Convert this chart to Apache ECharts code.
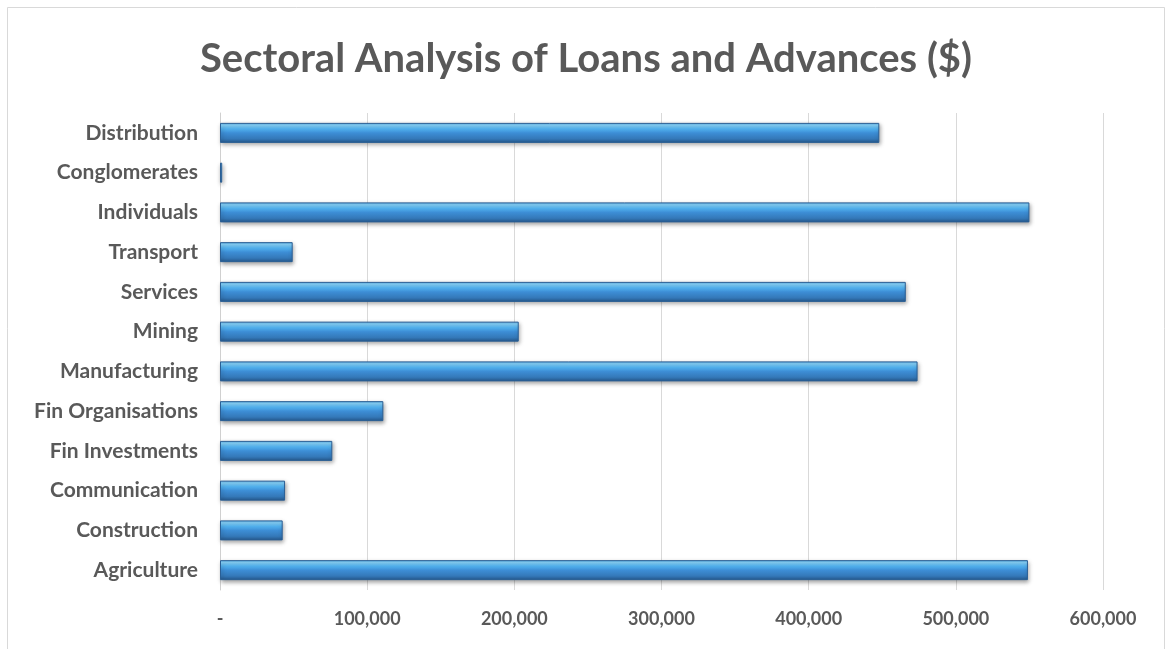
<!DOCTYPE html>
<html>
<head>
<meta charset="utf-8">
<script src="https://cdn.jsdelivr.net/npm/echarts@6/dist/echarts.min.js"></script>
<style>html,body{margin:0;padding:0;background:#fff;}#c{width:1172px;height:649px;}</style>
</head>
<body>
<div id="c"></div>
<script>
const title = 'Sectoral Analysis of Loans and Advances ($)';
const categories = ['Agriculture', 'Construction', 'Communication', 'Fin Investments', 'Fin Organisations', 'Manufacturing', 'Mining', 'Services', 'Transport', 'Individuals', 'Conglomerates', 'Distribution'];
const values = [549000, 42600, 44200, 76300, 111000, 474000, 203000, 466000, 49400, 550000, 1500, 448000];
const xTicks = [0, 100000, 200000, 300000, 400000, 500000, 600000];

const chart = echarts.init(document.getElementById('c'));
const barGrad = new echarts.graphic.LinearGradient(0, 0, 0, 1, [
  {offset: 0, color: '#5aaee8'},
  {offset: 0.12, color: '#86d2fa'},
  {offset: 0.3, color: '#52b2ef'},
  {offset: 0.5, color: '#3d8ed6'},
  {offset: 0.8, color: '#3478b8'},
  {offset: 1, color: '#25588c'}
]);
chart.setOption({
  animation: false,
  backgroundColor: '#ffffff',
  title: {
    text: title, left: 'center', top: 34,
    textStyle: {fontFamily: 'Lato', fontWeight: 'bold', fontSize: 40, color: '#595959'}
  },
  graphic: [{
    type: 'rect', shape: {x: 7.5, y: 7.5, width: 1157, height: 650},
    style: {fill: 'none', stroke: '#d9d9d9', lineWidth: 1}, silent: true
  }],
  grid: {left: 220, right: 69, top: 113, bottom: 59, containLabel: false},
  xAxis: {
    type: 'value', min: xTicks[0], max: xTicks[xTicks.length - 1], interval: xTicks[1] - xTicks[0],
    axisLine: {show: false}, axisTick: {show: false},
    splitLine: {lineStyle: {color: '#d9d9d9', width: 1}},
    axisLabel: {
      margin: 20, fontFamily: 'Lato', fontWeight: 'bold', fontSize: 18, color: '#595959',
      formatter: v => v === 0 ? '-' : v.toLocaleString('en-US')
    }
  },
  yAxis: {
    type: 'category', data: categories,
    axisLine: {show: true, lineStyle: {color: '#d0d0d0'}}, axisTick: {show: false},
    axisLabel: {margin: 22, fontFamily: 'Lato', fontWeight: 'bold', fontSize: 21, color: '#595959'}
  },
  series: [{
    type: 'bar', data: values, barWidth: 20,
    itemStyle: {
      color: barGrad, borderColor: '#2a5f95', borderWidth: 1,
      shadowColor: 'rgba(0,0,0,0.35)', shadowBlur: 4, shadowOffsetX: 1, shadowOffsetY: 2
    }
  }]
});
</script>
</body>
</html>
